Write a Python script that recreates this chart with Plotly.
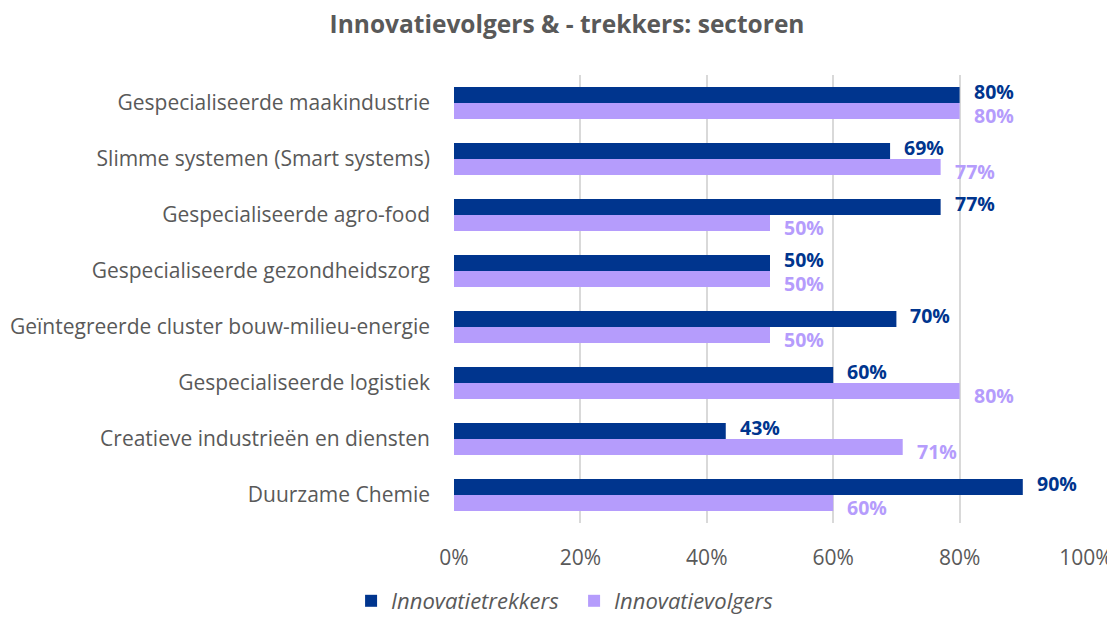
import plotly.graph_objects as go

categories = [
    "Gespecialiseerde maakindustrie",
    "Slimme systemen (Smart systems)",
    "Gespecialiseerde agro-food",
    "Gespecialiseerde gezondheidszorg",
    "Geïntegreerde cluster bouw-milieu-energie",
    "Gespecialiseerde logistiek",
    "Creatieve industrieën en diensten",
    "Duurzame Chemie",
]
trekkers = [80, 69, 77, 50, 70, 60, 43, 90]
volgers = [80, 77, 50, 50, 50, 80, 71, 60]
x_ticks = [0, 20, 40, 60, 80, 100]
x_ticklabels = [f"{t}%" for t in x_ticks]

DARK = "#00358E"
LIGHT = "#B59CFC"
GREY = "#595959"
FONT = "Open Sans"

fig = go.Figure()
fig.add_trace(go.Bar(y=categories, x=trekkers, orientation="h", name="Innovatietrekkers",
                     marker=dict(color=DARK, line=dict(width=0))))
fig.add_trace(go.Bar(y=categories, x=volgers, orientation="h", name="Innovatievolgers",
                     marker=dict(color=LIGHT, line=dict(width=0))))

annotations = []
for c, v in zip(categories, trekkers):
    annotations.append(dict(x=v, y=c, xref="x", yref="y", text=f"<b>{v}%</b>", showarrow=False,
                            xanchor="left", yanchor="middle", xshift=12, yshift=11.5,
                            font=dict(family=FONT, size=19.5, color=DARK)))
for c, v in zip(categories, volgers):
    annotations.append(dict(x=v, y=c, xref="x", yref="y", text=f"<b>{v}%</b>", showarrow=False,
                            xanchor="left", yanchor="middle", xshift=12, yshift=-12.5,
                            font=dict(family=FONT, size=19.5, color=LIGHT)))

fig.update_layout(
    width=1107, height=609,
    margin=dict(l=446, r=29, t=67, b=94),
    paper_bgcolor="white", plot_bgcolor="white",
    barmode="group", bargap=0.43, bargroupgap=0,
    title=dict(text="<b>Innovatievolgers & - trekkers: sectoren</b>", x=0.505, xanchor="center",
               y=1 - 16 / 609, yanchor="middle", font=dict(family=FONT, size=24.5, color=GREY)),
    font=dict(family=FONT, size=21, color=GREY),
    xaxis=dict(range=[0, 100], tickvals=x_ticks, ticktext=x_ticklabels, showgrid=True,
               gridcolor="#D9D9D9", gridwidth=1.5, zeroline=False, showline=False,
               ticks="", tickfont=dict(family=FONT, size=21, color=GREY), ticklabelstandoff=20,
               automargin=False),
    yaxis=dict(autorange="reversed", showgrid=False, zeroline=False, showline=False, ticks="",
               tickfont=dict(family=FONT, size=21, color=GREY), ticklabelstandoff=23,
               automargin=False),
    legend=dict(orientation="h", x=0.19, xanchor="center", xref="paper",
                y=1 - 593 / 609, yanchor="middle", yref="container",
                font=dict(family=FONT, size=22, color=GREY, style="italic"),
                itemwidth=30, traceorder="normal", entrywidth=178, entrywidthmode="pixels"),
    annotations=annotations,
)

fig.write_html("out.html")
